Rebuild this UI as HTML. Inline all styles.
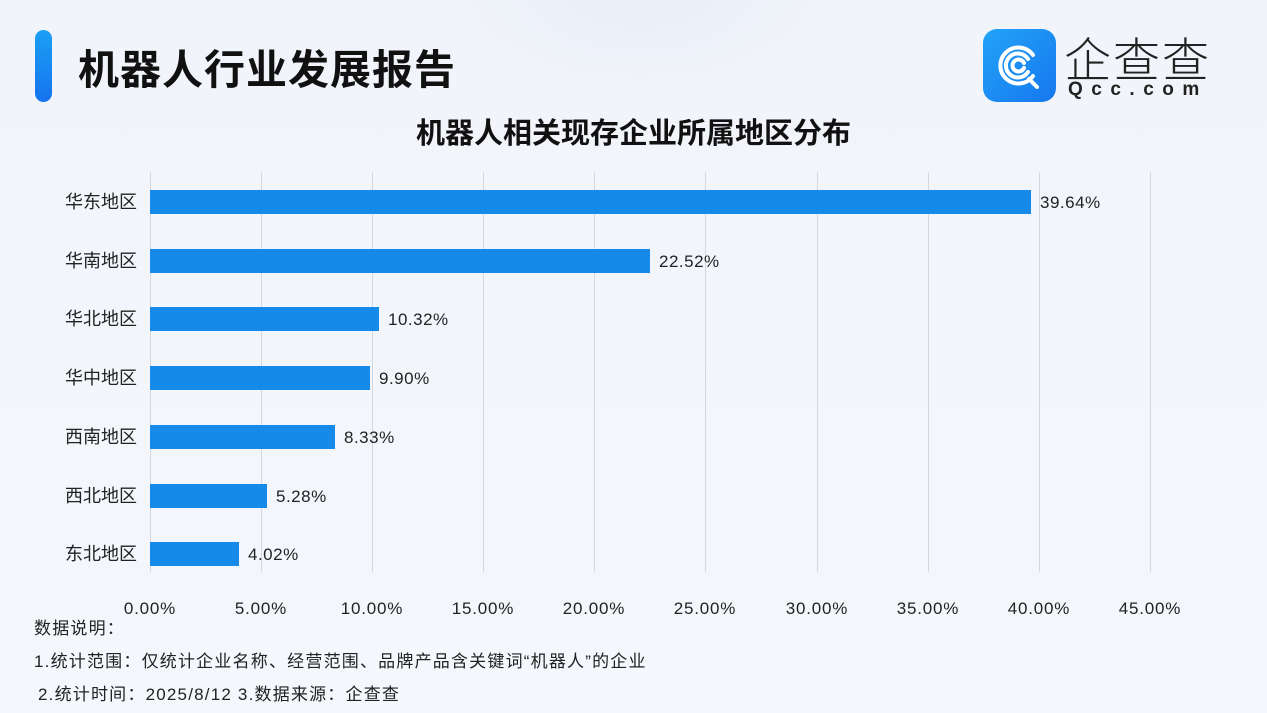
<!DOCTYPE html>
<html><head><meta charset="utf-8"><style>
body{margin:0;width:1267px;height:713px;overflow:hidden;font-family:"Liberation Sans","Noto Sans CJK SC",sans-serif;background:linear-gradient(180deg,#f1f4fa 0%,#f4f7fc 100%);position:relative}
.a{position:absolute}
</style></head><body>
<div class="a" style="left:430px;top:-120px;width:420px;height:220px;border-radius:50%;background:radial-gradient(#e8edf7,rgba(232,237,247,0) 70%)"></div>
<div class="a" style="left:35px;top:30px;width:17px;height:72px;border-radius:9px;background:linear-gradient(#1aa0f5,#1673ee)"></div>
<div class="a" style="left:78px;top:36px;font-size:41px;font-weight:bold;color:#111;letter-spacing:1px">机器人行业发展报告</div>
<div class="a" style="left:983px;top:29px;width:73px;height:73px;border-radius:14px;background:linear-gradient(135deg,#22a4f8,#1677ee)">
<svg width="73" height="73"><g fill="none" stroke="#fff" stroke-width="4" stroke-linecap="round"><path d="M50 26 A18 18 0 1 0 50 47"/><path d="M45 30 A12 12 0 1 0 45 43"/><path d="M41 34 A6 6 0 1 0 41 39"/><path d="M46 50 L54 58"/></g></svg></div>
<div class="a" style="left:1064px;top:33px;font-size:47px;line-height:47px;color:#222;letter-spacing:2px;font-family:'Noto Sans CJK SC',sans-serif;font-weight:300">企查查</div>
<div class="a" style="left:1068px;top:80px;font-size:19px;line-height:19px;color:#222;letter-spacing:8.5px;font-weight:bold">Qcc.com</div>
<div class="a" style="left:0;width:1267px;top:110px;text-align:center;font-size:29px;font-weight:bold;color:#111">机器人相关现存企业所属地区分布</div>
<svg class="a" style="left:0;top:0" width="1267" height="713">
<g stroke="#d3d8e0" stroke-width="1">
<line x1="150.5" y1="172" x2="150.5" y2="572"/><line x1="261.5" y1="172" x2="261.5" y2="572"/><line x1="372.5" y1="172" x2="372.5" y2="572"/><line x1="483.5" y1="172" x2="483.5" y2="572"/><line x1="594.5" y1="172" x2="594.5" y2="572"/><line x1="705.5" y1="172" x2="705.5" y2="572"/><line x1="817.5" y1="172" x2="817.5" y2="572"/><line x1="928.5" y1="172" x2="928.5" y2="572"/><line x1="1039.5" y1="172" x2="1039.5" y2="572"/><line x1="1150.5" y1="172" x2="1150.5" y2="572"/>
</g>
<g fill="#168ae8">
<rect x="150" y="190" width="881" height="24"/>
<rect x="150" y="249" width="500" height="24"/>
<rect x="150" y="307" width="229" height="24"/>
<rect x="150" y="366" width="220" height="24"/>
<rect x="150" y="425" width="185" height="24"/>
<rect x="150" y="484" width="117" height="24"/>
<rect x="150" y="542" width="89" height="24"/>
</g>
<g font-size="17" fill="#222" font-family="Liberation Sans,Noto Sans CJK SC,sans-serif">
<g text-anchor="end" font-size="18"><text x="137" y="208">华东地区</text><text x="137" y="267">华南地区</text><text x="137" y="325">华北地区</text><text x="137" y="384">华中地区</text><text x="137" y="443">西南地区</text><text x="137" y="502">西北地区</text><text x="137" y="560">东北地区</text></g>
<g letter-spacing="0.5"><text x="1040" y="208">39.64%</text><text x="659" y="267">22.52%</text><text x="388" y="325">10.32%</text><text x="379" y="384">9.90%</text><text x="344" y="443">8.33%</text><text x="276" y="502">5.28%</text><text x="248" y="560">4.02%</text></g>
<g text-anchor="middle" letter-spacing="0.8"><text x="150" y="614">0.00%</text><text x="261" y="614">5.00%</text><text x="372" y="614">10.00%</text><text x="483" y="614">15.00%</text><text x="594" y="614">20.00%</text><text x="705" y="614">25.00%</text><text x="817" y="614">30.00%</text><text x="928" y="614">35.00%</text><text x="1039" y="614">40.00%</text><text x="1150" y="614">45.00%</text></g>
<g letter-spacing="1.2"><text x="34" y="634">数据说明：</text>
<text x="34" y="667">1.统计范围：仅统计企业名称、经营范围、品牌产品含关键词“机器人”的企业</text>
<text x="38" y="700">2.统计时间：2025/8/12  3.数据来源：企查查</text></g>
</g>
</svg>
</body></html>
